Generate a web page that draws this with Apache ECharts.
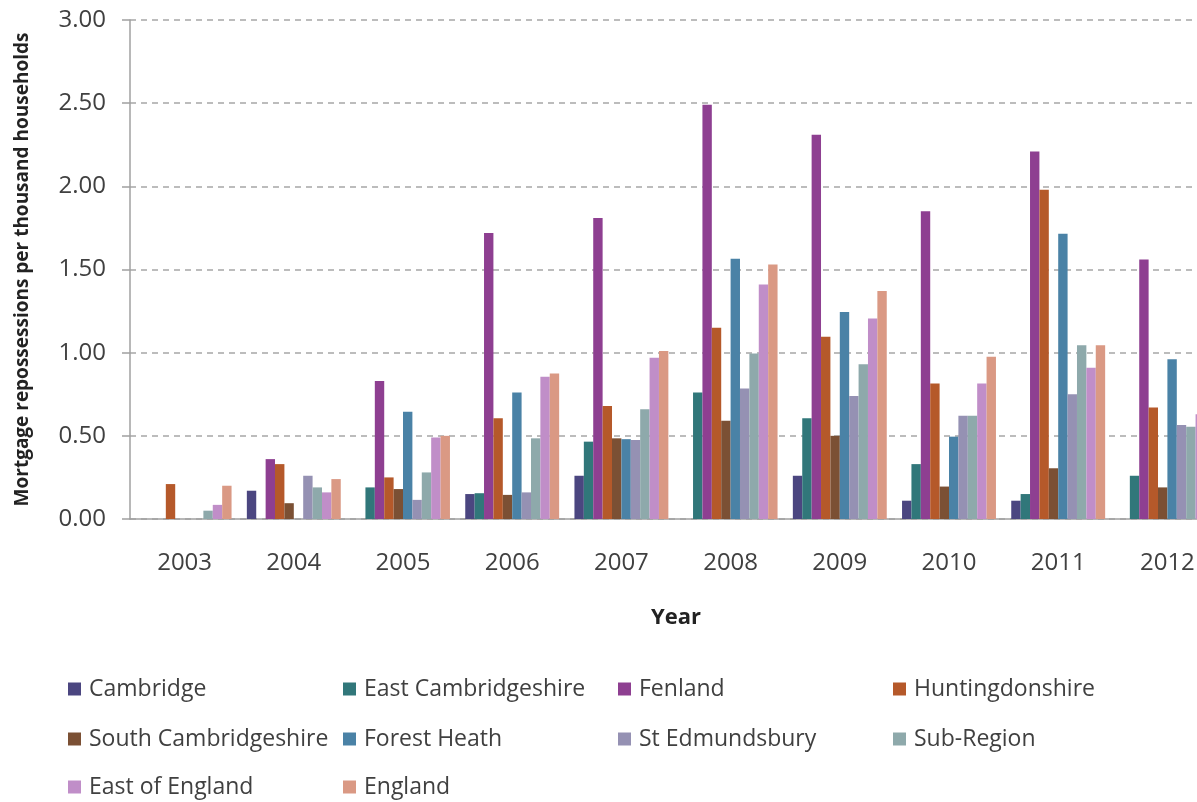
<!DOCTYPE html>
<html>
<head>
<meta charset="utf-8">
<script src="https://cdn.jsdelivr.net/npm/echarts@6/dist/echarts.min.js"></script>
<style>
  html, body { margin: 0; padding: 0; background: #fff; }
  #chart { width: 1197px; height: 802px; }
</style>
</head>
<body>
<div id="chart"></div>
<script>
// Mortgage repossessions per thousand households, by district and year
const years = ['2003', '2004', '2005', '2006', '2007', '2008', '2009', '2010', '2011', '2012'];
const yTicks = [0, 0.5, 1, 1.5, 2, 2.5, 3];

const cambridge        = [0,    0.17,  0,     0.15,  0.26,  0,     0.26,  0.11,  0.11,  0];
const eastCambs        = [0,    0,     0.19,  0.155, 0.465, 0.76,  0.605, 0.33,  0.15,  0.26];
const fenland          = [0,    0.36,  0.83,  1.72,  1.81,  2.49,  2.31,  1.85,  2.21,  1.56];
const huntingdonshire  = [0.21, 0.33,  0.25,  0.605, 0.68,  1.15,  1.095, 0.815, 1.98,  0.67];
const southCambs       = [0,    0.095, 0.18,  0.145, 0.485, 0.59,  0.50,  0.195, 0.305, 0.19];
const forestHeath      = [0,    0,     0.645, 0.76,  0.48,  1.565, 1.245, 0.495, 1.715, 0.96];
const stEdmundsbury    = [0,    0.26,  0.115, 0.16,  0.475, 0.785, 0.74,  0.62,  0.75,  0.565];
const subRegion        = [0.05, 0.19,  0.28,  0.485, 0.66,  0.995, 0.93,  0.62,  1.045, 0.555];
const eastOfEngland    = [0.085,0.16,  0.49,  0.855, 0.97,  1.41,  1.205, 0.815, 0.91,  0.63];
const england          = [0.20, 0.24,  0.50,  0.875, 1.01,  1.53,  1.37,  0.975, 1.045, 0.75];

const seriesNames = ['Cambridge', 'East Cambridgeshire', 'Fenland', 'Huntingdonshire',
  'South Cambridgeshire', 'Forest Heath', 'St Edmundsbury', 'Sub-Region', 'East of England', 'England'];
const seriesData = [cambridge, eastCambs, fenland, huntingdonshire, southCambs,
  forestHeath, stEdmundsbury, subRegion, eastOfEngland, england];
const colors = ['#4b4680', '#31777a', '#8e3f91', '#b5592a', '#7b5034',
  '#4a82a6', '#9591b3', '#8ea9ab', '#c08ec8', '#da9984'];

const FONT = '"Open Sans", "DejaVu Sans", sans-serif';
const TEXT = '#404040';

// legend: four columns, filled row by row
const legendColLeft = [68, 343, 618, 893];
const legendRowTop = [676, 726, 774];

const chart = echarts.init(document.getElementById('chart'), null, { renderer: 'canvas' });

chart.setOption({
  backgroundColor: '#ffffff',
  animation: false,
  color: colors,
  grid: { left: 130, top: 20, width: 1092, height: 499, containLabel: false, outerBoundsMode: 'none' },
  legend: seriesNames.map((name, i) => ({
    data: [name],
    left: legendColLeft[i % 4],
    top: legendRowTop[Math.floor(i / 4)],
    padding: 0,
    icon: 'rect',
    itemWidth: 13,
    itemHeight: 13,
    selectedMode: false,
    textStyle: { fontFamily: FONT, fontSize: 23, color: TEXT, lineHeight: 26, padding: [0, 0, 0, 3] }
  })),
  xAxis: {
    type: 'category',
    data: years,
    name: 'Year',
    nameLocation: 'middle',
    nameGap: 88,
    nameTextStyle: { fontFamily: FONT, fontSize: 22, fontWeight: 'bold', color: '#222' },
    axisLine: { lineStyle: { color: '#a0a0a0', width: 1.5 } },
    axisTick: { show: false },
    axisLabel: { fontFamily: FONT, fontSize: 24, color: TEXT, margin: 32 }
  },
  yAxis: {
    type: 'value',
    min: 0,
    max: 3,
    interval: 0.5,
    name: 'Mortgage repossessions per thousand households',
    nameLocation: 'middle',
    nameRotate: 90,
    nameGap: 98,
    nameTextStyle: { fontFamily: FONT, fontSize: 19, fontWeight: 'bold', color: '#222' },
    axisLine: { show: true, lineStyle: { color: '#a0a0a0', width: 1.5 } },
    axisTick: { show: true, length: 8, lineStyle: { color: '#a0a0a0', width: 1.5 } },
    axisLabel: {
      fontFamily: FONT, fontSize: 24, color: TEXT, margin: 24,
      formatter: v => yTicks.indexOf(v) >= 0 ? v.toFixed(2) : ''
    },
    splitLine: { show: true, lineStyle: { color: '#a6a6a6', width: 1.5, type: [6, 5] } }
  },
  series: seriesNames.map((name, i) => ({
    name,
    type: 'bar',
    data: seriesData[i],
    barGap: '0%',
    barCategoryGap: '14%',
    itemStyle: { color: colors[i] }
  }))
});
</script>
</body>
</html>
